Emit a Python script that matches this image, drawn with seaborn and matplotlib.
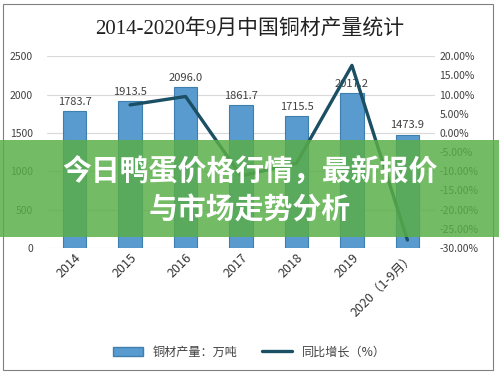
import numpy as np
import pandas as pd
import seaborn as sns
import matplotlib.pyplot as plt
from matplotlib.patches import Rectangle, Patch
from matplotlib.lines import Line2D
from matplotlib.ticker import FuncFormatter

# chart data
years = ["2014", "2015", "2016", "2017", "2018", "2019", "2020（1-9月）"]
output = [1783.7, 1913.5, 2096.0, 1861.7, 1715.5, 2017.2, 1473.9]
growth = [np.nan, 7.3, 9.5, -11.2, -7.9, 17.6, -27.9]

sns.set_style("white")
plt.rcParams['font.family'] = ['Noto Sans CJK SC', 'DejaVu Sans']

df = pd.DataFrame({"year": years, "output": output, "growth": growth})

fig = plt.figure(figsize=(4.99, 3.77), dpi=100)
ax = fig.add_axes([0.094, 0.342, 0.778, 0.509])

bar_color = "#5a9bcf"
line_color = "#1b4f63"

sns.barplot(data=df, x="year", y="output", color=bar_color, width=0.42,
            edgecolor="#3f7fae", linewidth=0.8, saturation=1, ax=ax, zorder=3)
ax.set_ylim(0, 2500)
ax.set_yticks(range(0, 2501, 500))
ax.yaxis.grid(True, color="#d9d9d9", linewidth=0.8)
ax.set_axisbelow(True)
for s in ax.spines.values():
    s.set_visible(False)
ax.set_xlabel("")
ax.set_ylabel("")
ax.tick_params(axis="y", labelsize=7.5, colors="#404040", length=0, pad=10)
ax.tick_params(axis="x", labelsize=9, colors="#333333", length=0, pad=2)
plt.setp(ax.get_xticklabels(), rotation=45, ha="right", rotation_mode="anchor")

for i, v in enumerate(output):
    ax.text(i, v + 60, f"{v:.1f}", ha="center", va="bottom", fontsize=8, color="#404040")

ax2 = ax.twinx()
sns.lineplot(data=df.dropna(), x="year", y="growth", color=line_color,
             linewidth=2.4, sort=False, ax=ax2, zorder=4)
ax2.set_ylim(-30, 20)
ax2.set_yticks(range(-30, 21, 5))
ax2.yaxis.set_major_formatter(FuncFormatter(lambda v, p: f"{v:.2f}%"))
ax2.tick_params(axis="y", labelsize=7.5, colors="#404040", length=0, pad=3)
ax2.set_ylabel("")
for s in ax2.spines.values():
    s.set_visible(False)
ax.set_xlim(-0.5, len(years) - 0.5)

fig.text(0.5, 0.925, "2014-2020年9月中国铜材产量统计", ha="center", va="center",
         fontsize=15, color="#222222", family=['Liberation Serif', 'Noto Sans CJK SC'])

handles = [Patch(facecolor=bar_color, edgecolor="#3f7fae"),
           Line2D([0], [0], color=line_color, linewidth=2.4)]
fig.legend(handles, ["铜材产量：万吨", "同比增长（%）"], loc="center",
           bbox_to_anchor=(0.5, 0.066), ncol=2, frameon=False, fontsize=8.7,
           handlelength=2.5, columnspacing=2.0, labelcolor="#404040")

# outer frame
fig.patches.append(Rectangle((0.006, 0.018), 0.982, 0.972, transform=fig.transFigure,
                             fill=False, edgecolor="#808080", linewidth=0.8))

# green banner overlay
fig.patches.append(Rectangle((0, 0.372), 1, 0.257, transform=fig.transFigure,
                             facecolor="#5aae48", alpha=0.84, edgecolor="none", zorder=10))
fig.text(0.5, 0.546, "今日鸭蛋价格行情，最新报价", ha="center", va="center",
         fontsize=20.8, fontweight="bold", color="white", zorder=11)
fig.text(0.5, 0.443, "与市场走势分析", ha="center", va="center",
         fontsize=20.8, fontweight="bold", color="white", zorder=11)

fig.savefig("out.png", dpi=100)
